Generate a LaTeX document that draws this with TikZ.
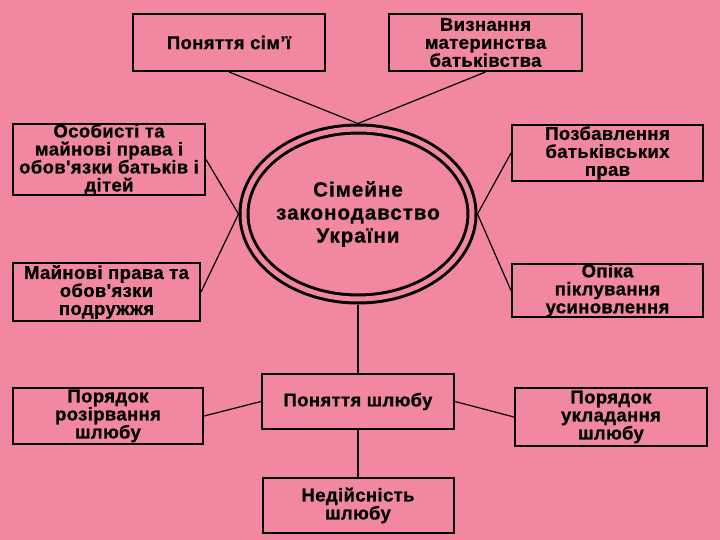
\documentclass[tikz,border=0pt]{standalone}
\usepackage{fontspec}
\setmainfont{Liberation Sans}[Ligatures=TeXOff,LetterSpace=2,
  BoldFeatures={FakeBold=0.8}]
\usetikzlibrary{positioning,shapes.geometric}
\definecolor{slidepink}{RGB}{241,136,160}

\begin{document}
\begin{tikzpicture}[
  x=1pt,y=-1pt,
  line width=1.2pt,
  every node/.style={font=\fontsize{18.5}{18}\selectfont\bfseries,align=center},
  topic/.style={draw,rectangle,line width=2pt,inner sep=0pt,
    minimum width=192pt,minimum height=57pt},
  core/.style={draw,ellipse,line width=3pt,double=slidepink,
    double distance=5pt,inner sep=0pt,outer sep=5.5pt,
    minimum width=228pt,minimum height=170pt},
  core text/.style={font=\fontsize{20.5}{23}\selectfont\bfseries
    \addfontfeatures{LetterSpace=5}},
  link/.style={line width=1.2pt}
]

% ==================================================
% фон
% ==================================================
\useasboundingbox (0,0) rectangle (720,540);
\fill[slidepink] (0,0) rectangle (720,540);

% ==================================================
% центр
% ==================================================
\node[core] (law) at (358,214) {};
\node[core text] (lawtext) at (law.center)
  {Сімейне\\законодавство\\України};

% ==================================================
% теми навколо
% ==================================================
\node[topic] (simya) at (229,42.5) {Поняття сім’ї};
\node[topic,minimum width=193pt] (vyznannya) at (485.5,42.5)
  {Визнання\\материнства\\батьківства};

\node[topic,minimum height=69pt] (osobysti) at (109,159.5)
  {Особисті та\\майнові права і\\обов'язки батьків і\\дітей};
\node[topic,minimum width=187pt,minimum height=58pt] (mainovi) at (106.5,292)
  {Майнові права та\\обов'язки\\подружжя};

\node[topic,minimum width=191pt,minimum height=56pt] (pozbavlennya) at (607.5,153)
  {Позбавлення\\батьківських\\прав};
\node[topic,minimum width=191pt,minimum height=53pt] (opika) at (607.5,290.5)
  {Опіка\\піклування\\усиновлення};

% шлюб
\node[topic,minimum height=55pt] (shlyub) at (358,401.5) {Поняття шлюбу};
\node[topic,minimum width=190pt,minimum height=56pt] (rozirvannya) at (108,416)
  {Порядок\\розірвання\\шлюбу};
\node[topic,minimum height=58pt] (ukladannya) at (611,417)
  {Порядок\\укладання\\шлюбу};
\node[topic,minimum width=191pt,minimum height=55pt] (nediysnist) at (358,505.5)
  {Недійсність\\шлюбу};

% ==================================================
% зв'язки
% ==================================================
\draw[link] (simya.south) -- (law.north);
\draw[link] (vyznannya.south) -- (law.north);
\draw[link] (osobysti.east) -- (law.west);
\draw[link] (mainovi.east) -- (law.west);
\draw[link] (pozbavlennya.west) -- (law.east);
\draw[link] (opika.west) -- (law.east);

\draw[link] (law.south) -- (shlyub.north);
\draw[link] (shlyub.west) -- (rozirvannya.east);
\draw[link] (shlyub.east) -- (ukladannya.west);
\draw[link] (shlyub.south) -- (nediysnist.north);

\end{tikzpicture}
\end{document}
